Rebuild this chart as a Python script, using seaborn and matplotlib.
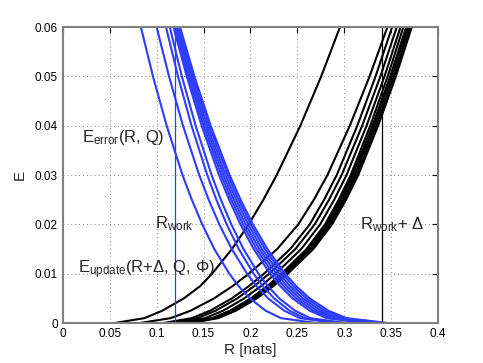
import matplotlib
matplotlib.use("Agg")
import matplotlib.pyplot as plt
import pandas as pd
import seaborn as sns

e_levels = [0.065, 0.06, 0.05, 0.04, 0.03, 0.025, 0.02, 0.015, 0.01,
            0.0075, 0.005, 0.0025, 0.001, 0.0, 0.0]

# E_error(R, Q) curves (blue): R at each E level
blue_curves = {
    "B1": [0.0772, 0.0832, 0.0961, 0.1107, 0.1276, 0.1375, 0.1486, 0.1615, 0.1775, 0.1873, 0.1995, 0.2163, 0.2325, 0.270, 0.4],
    "B2": [0.0939, 0.100, 0.1132, 0.1281, 0.1454, 0.1555, 0.1668, 0.1801, 0.1964, 0.2065, 0.2189, 0.2361, 0.2526, 0.291, 0.4],
    "B3": [0.1041, 0.110, 0.1228, 0.1372, 0.1540, 0.1637, 0.1747, 0.1876, 0.2034, 0.2131, 0.2252, 0.2418, 0.2578, 0.295, 0.4],
    "B4": [0.1080, 0.114, 0.1269, 0.1416, 0.1586, 0.1685, 0.1796, 0.1926, 0.2086, 0.2185, 0.2307, 0.2476, 0.2638, 0.3015, 0.4],
    "B5": [0.1115, 0.118, 0.1321, 0.1480, 0.1665, 0.1773, 0.1894, 0.2035, 0.2209, 0.2317, 0.2450, 0.2633, 0.2810, 0.322, 0.4],
    "B6": [0.1129, 0.1195, 0.1338, 0.1500, 0.1689, 0.1798, 0.1921, 0.2065, 0.2242, 0.2352, 0.2487, 0.2673, 0.2853, 0.327, 0.4],
    "B7": [0.1143, 0.121, 0.1356, 0.1520, 0.1712, 0.1823, 0.1948, 0.2095, 0.2275, 0.2386, 0.2524, 0.2713, 0.2896, 0.332, 0.4],
    "B8": [0.1157, 0.1225, 0.1373, 0.1540, 0.1735, 0.1848, 0.1976, 0.2124, 0.2307, 0.2421, 0.2560, 0.2753, 0.2939, 0.337, 0.4],
    "B9": [0.1171, 0.124, 0.1390, 0.1561, 0.1759, 0.1873, 0.2003, 0.2154, 0.2340, 0.2455, 0.2597, 0.2793, 0.2982, 0.342, 0.4],
    "B10": [0.1179, 0.125, 0.1403, 0.1576, 0.1778, 0.1895, 0.2027, 0.2181, 0.2370, 0.2487, 0.2632, 0.2831, 0.3024, 0.347, 0.4],
}

# E_update(R+Delta, Q, Phi) curves (black): R at each E level
black_curves = {
    "K1": [0.3049, 0.2955, 0.2754, 0.2532, 0.2280, 0.2138, 0.1981, 0.1803, 0.1591, 0.1465, 0.1290, 0.1060, 0.0870, 0.055, 0.0],
    "K2": [0.3544, 0.346, 0.3270, 0.3059, 0.2821, 0.2676, 0.2510, 0.2285, 0.1982, 0.1810, 0.1612, 0.1361, 0.1150, 0.082, 0.0],
    "K3": [0.3588, 0.351, 0.3334, 0.3139, 0.2920, 0.2785, 0.2632, 0.2424, 0.2144, 0.1985, 0.1802, 0.1570, 0.1375, 0.107, 0.0],
    "K4": [0.3638, 0.356, 0.3385, 0.3191, 0.2972, 0.2838, 0.2685, 0.2479, 0.2199, 0.2041, 0.1859, 0.1628, 0.1434, 0.113, 0.0],
    "K5": [0.3676, 0.360, 0.3429, 0.3238, 0.3024, 0.2893, 0.2743, 0.2541, 0.2267, 0.2113, 0.1934, 0.1708, 0.1518, 0.122, 0.0],
    "K6": [0.3704, 0.363, 0.3463, 0.3277, 0.3069, 0.2941, 0.2795, 0.2598, 0.2331, 0.2180, 0.2006, 0.1786, 0.1600, 0.131, 0.0],
    "K7": [0.3736, 0.366, 0.3490, 0.3301, 0.3089, 0.2959, 0.2810, 0.2610, 0.2338, 0.2185, 0.2008, 0.1784, 0.1595, 0.130, 0.0],
    "K8": [0.3756, 0.368, 0.3510, 0.3321, 0.3109, 0.2979, 0.2830, 0.2630, 0.2358, 0.2205, 0.2028, 0.1804, 0.1615, 0.132, 0.0],
    "K9": [0.3776, 0.370, 0.3530, 0.3341, 0.3129, 0.2999, 0.2850, 0.2650, 0.2378, 0.2225, 0.2048, 0.1824, 0.1635, 0.134, 0.0],
    "K10": [0.3796, 0.372, 0.3550, 0.3361, 0.3149, 0.3019, 0.2870, 0.2670, 0.2398, 0.2245, 0.2068, 0.1844, 0.1655, 0.136, 0.0],
}

r_work = 0.12
r_work_delta = 0.34

x_ticks = [0, 0.05, 0.1, 0.15, 0.2, 0.25, 0.3, 0.35, 0.4]
x_tick_labels = ["0", "0.05", "0.1", "0.15", "0.2", "0.25", "0.3", "0.35", "0.4"]
y_ticks = [0, 0.01, 0.02, 0.03, 0.04, 0.05, 0.06]
y_tick_labels = ["0", "0.01", "0.02", "0.03", "0.04", "0.05", "0.06"]


def to_long(curves):
    rows = []
    for name, rs in curves.items():
        for r, e in zip(rs, e_levels):
            rows.append({"curve": name, "R": r, "E": e})
    return pd.DataFrame(rows)


df_blue = to_long(blue_curves)
df_black = to_long(black_curves)

sns.set_style("white")
plt.rcParams["font.family"] = ["Liberation Sans", "DejaVu Sans"]
plt.rcParams["mathtext.fontset"] = "custom"
plt.rcParams["mathtext.rm"] = "Liberation Sans"
plt.rcParams["mathtext.it"] = "Liberation Sans"
plt.rcParams["mathtext.default"] = "regular"

fig = plt.figure(figsize=(4.83, 3.63), dpi=100)
ax = fig.add_axes([0.130, 0.110, 0.777, 0.8156])

blue = "#2e3cff"

sns.lineplot(data=df_black, x="R", y="E", units="curve", estimator=None,
             color="black", linewidth=1.5, ax=ax)
sns.lineplot(data=df_blue, x="R", y="E", units="curve", estimator=None,
             color=blue, linewidth=1.5, ax=ax)

ax.axvline(r_work, color=blue, linewidth=0.9)
ax.axvline(r_work_delta, color="black", linewidth=0.9)

# Annotations
ax.text(0.021, 0.0367, r"$E_{error}$(R, Q)", fontsize=12)
ax.text(0.098, 0.0192, r"$R_{work}$", fontsize=12)
ax.text(0.0164, 0.0101, r"$E_{update}$(R+Δ, Q, Φ)", fontsize=12)
ax.text(0.3168, 0.0191, r"$R_{work}$+ Δ", fontsize=12)

ax.set_xlim(0, 0.4)
ax.set_ylim(0, 0.06)
ax.set_xticks(x_ticks)
ax.set_xticklabels(x_tick_labels)
ax.set_yticks(y_ticks)
ax.set_yticklabels(y_tick_labels)
ax.tick_params(direction="in", length=4, width=0.8, labelsize=8.5,
               top=True, right=True, colors="black")
ax.grid(True, linestyle=(0, (1, 3)), color="#888888", linewidth=0.7)
for spine in ax.spines.values():
    spine.set_color("#808080")
    spine.set_linewidth(1.5)

ax.set_xlabel("R [nats]", fontsize=11, labelpad=2)
ax.set_ylabel("E", fontsize=11, labelpad=6)

fig.savefig("out.png", dpi=100)
